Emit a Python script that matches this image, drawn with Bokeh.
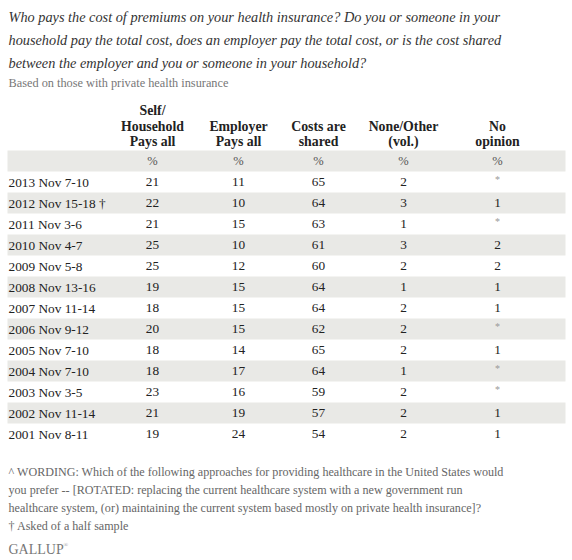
from bokeh.plotting import figure
from bokeh.models import Range1d
from bokeh.core.properties import value
from bokeh.embed import file_html
from bokeh.resources import INLINE

# ---- data ----
title_lines = [
    "Who pays the cost of premiums on your health insurance? Do you or someone in your",
    "household pay the total cost, does an employer pay the total cost, or is the cost shared",
    "between the employer and you or someone in your household?",
]
subtitle = "Based on those with private health insurance"
col_headers = [
    ["Self/", "Household", "Pays all"],
    ["Employer", "Pays all"],
    ["Costs are", "shared"],
    ["None/Other", "(vol.)"],
    ["No", "opinion"],
]
dates = ["2013 Nov 7-10", "2012 Nov 15-18 \u2020", "2011 Nov 3-6", "2010 Nov 4-7",
         "2009 Nov 5-8", "2008 Nov 13-16", "2007 Nov 11-14", "2006 Nov 9-12",
         "2005 Nov 7-10", "2004 Nov 7-10", "2003 Nov 3-5", "2002 Nov 11-14",
         "2001 Nov 8-11"]
self_pays = [21, 22, 21, 25, 25, 19, 18, 20, 18, 18, 23, 21, 19]
employer_pays = [11, 10, 15, 10, 12, 15, 15, 15, 14, 17, 16, 19, 24]
costs_shared = [65, 64, 63, 61, 60, 64, 64, 62, 65, 64, 59, 57, 54]
none_other = [2, 3, 1, 3, 2, 1, 2, 2, 2, 1, 2, 2, 2]
no_opinion = ["*", "1", "*", "2", "2", "1", "1", "*", "1", "*", "*", "1", "1"]
footer_lines = [
    "^ WORDING: Which of the following approaches for providing healthcare in the United States would",
    "you prefer -- [ROTATED: replacing the current healthcare system with a new government run",
    "healthcare system, (or) maintaining the current system based mostly on private health insurance]?",
    "\u2020 Asked of a half sample",
]
brand = "GALLUP"

# ---- layout ----
W, H = 572, 560
p = figure(width=W, height=H, output_backend="svg", toolbar_location=None,
           x_range=Range1d(0, W), y_range=Range1d(H, 0),
           min_border=0, outline_line_color=None)
p.axis.visible = False
p.grid.visible = False
p.background_fill_color = "white"
p.border_fill_color = "white"

SERIF = value("Liberation Serif")
col_x = [152, 238, 318, 403, 497]
band_top0 = 150.0
row_h = 21.0

# bands (pct row index 0, then data rows)
n_rows = len(dates) + 1
tops, bottoms = [], []
for i in range(n_rows):
    if i % 2 == 0:
        tops.append(band_top0 + i * row_h)
        bottoms.append(band_top0 + (i + 1) * row_h)
p.quad(left=7, right=565, top=tops, bottom=bottoms, fill_color="#e9e9e6", line_color=None)

# title
ty = [16, 39, 62]
p.text(x=[8] * 3, y=ty, text=title_lines, text_font=SERIF, text_font_style="italic",
       text_font_size="14.3px", text_color="#333333", text_baseline="middle", text_align="left")
p.text(x=[8], y=[82], text=[subtitle], text_font=SERIF, text_font_size="12.3px",
       text_color="#777777", text_baseline="middle", text_align="left")

# headers
hx, hy, ht = [], [], []
line_ys = [110, 125.5, 141]
for cx, lines in zip(col_x, col_headers):
    ys = line_ys[-len(lines):]
    for t, yy in zip(lines, ys):
        hx.append(cx); hy.append(yy); ht.append(t)
p.text(x=hx, y=hy, text=ht, text_font=SERIF, text_font_style="bold", text_font_size="13.8px",
       text_color="#222222", text_baseline="middle", text_align="center")

# % row
pct_y = band_top0 + row_h / 2
p.text(x=col_x, y=[pct_y] * 5, text=["%"] * 5, text_font=SERIF, text_font_size="12.5px",
       text_color="#555555", text_baseline="middle", text_align="center")

# data rows
row_y = [band_top0 + (i + 1.5) * row_h for i in range(len(dates))]
p.text(x=[8] * len(dates), y=row_y, text=dates, text_font=SERIF, text_font_size="13.3px",
       text_color="#222222", text_baseline="middle", text_align="left")
cols = [self_pays, employer_pays, costs_shared, none_other]
for cx, vals in zip(col_x[:4], cols):
    p.text(x=[cx] * len(vals), y=row_y, text=[str(v) for v in vals], text_font=SERIF,
           text_font_size="13.3px", text_color="#222222", text_baseline="middle", text_align="center")
star_y = [y - 3 if v == "*" else y for v, y in zip(no_opinion, row_y)]
p.text(x=[col_x[4]] * len(no_opinion), y=star_y, text=no_opinion, text_font=SERIF,
       text_font_size=["10px" if v == "*" else "13.3px" for v in no_opinion],
       text_color=["#999999" if v == "*" else "#222222" for v in no_opinion],
       text_baseline="middle", text_align="center")

# footer
fy = [471, 489, 507, 525]
p.text(x=[8] * 4, y=fy, text=footer_lines, text_font=SERIF, text_font_size="12.1px",
       text_color="#666666", text_baseline="middle", text_align="left")
p.text(x=[8], y=[549], text=[brand], text_font=SERIF, text_font_size="14px",
       text_color="#777777", text_baseline="middle", text_align="left")
p.text(x=[63], y=[544], text=["\u00ae"], text_font=SERIF, text_font_size="6px",
       text_color="#999999", text_baseline="middle", text_align="left")

open("out.html", "w").write(file_html(p, INLINE))
